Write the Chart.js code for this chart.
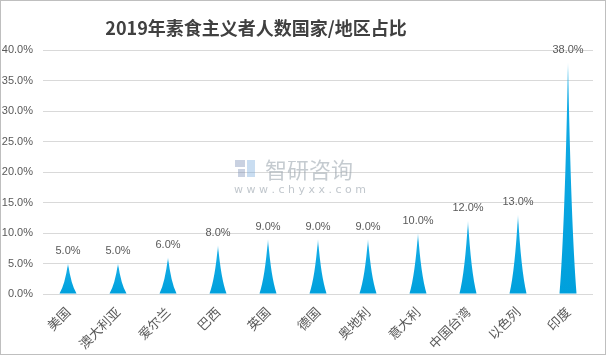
<!DOCTYPE html>
<html><head><meta charset="utf-8">
<script src="https://cdn.jsdelivr.net/npm/chart.js@4/dist/chart.umd.min.js"></script>
<style>html,body{margin:0;padding:0;background:#fff}#wrap{width:606px;height:355px;position:relative}</style>
</head><body><div id="wrap"><canvas id="c" width="606" height="355"></canvas></div>
<script>
const categories = ["美国","澳大利亚","爱尔兰","巴西","英国","德国","奥地利","意大利","中国台湾","以色列","印度"];
const values = [5,5,6,8,9,9,9,10,12,13,38];
const yTicks = [0,5,10,15,20,25,30,35,40];
const titleText = "2019年素食主义者人数国家/地区占比";

const spikePlugin = {
  id:'spikes',
  beforeDraw(chart){
    const ctx = chart.ctx;
    ctx.save();
    ctx.fillStyle='#fff';ctx.fillRect(0,0,chart.width,chart.height);
    ctx.strokeStyle='#bfbfbf';ctx.lineWidth=1;
    ctx.strokeRect(0.5,0.5,chart.width-1,chart.height-1);
    ctx.fillStyle='#404040';
    ctx.font='bold 18px "Noto Sans CJK SC", "Noto Sans", sans-serif';
    ctx.textAlign='center';ctx.textBaseline='middle';
    ctx.fillText(titleText, 256, 28);
    ctx.restore();
  },
  beforeDatasetsDraw(chart){
    const ctx=chart.ctx;
    ctx.save();
    ctx.fillStyle='rgba(150,160,170,0.55)';
    ctx.font='22px "Noto Sans CJK SC", sans-serif';
    ctx.textAlign='left';ctx.textBaseline='middle';
    ctx.fillText('智研咨询',265,170);
    ctx.font='11px "DejaVu Sans", sans-serif';
    ctx.fillStyle='rgba(150,160,170,0.6)';
    const url='w w w . c h y x x . c o m';
    ctx.fillText(url,234,190);
    ctx.fillStyle='rgba(120,140,180,0.4)';
    ctx.fillRect(235,160,10,7);ctx.fillRect(238,169,7,8);
    ctx.fillStyle='rgba(120,170,220,0.4)';
    ctx.fillRect(247,160,8,17);
    ctx.restore();
  },
  afterDatasetsDraw(chart){
    const ctx=chart.ctx;
    const meta=chart.getDatasetMeta(0);
    ctx.save();
    meta.data.forEach((el,i)=>{
      const p=el.getProps(['x','y','base','width'],true);
      const w=p.width, h=p.base-p.y;
      const g=ctx.createLinearGradient(0,p.y,0,p.base);
      g.addColorStop(0,'#9fe0f8');
      g.addColorStop(Math.min(0.15,10/h),'#14ace6');
      g.addColorStop(1,'#00a0dc');
      ctx.fillStyle=g;
      ctx.beginPath();
      ctx.moveTo(p.x-w/2,p.base);
      ctx.quadraticCurveTo(p.x-w*0.18,p.base-h*0.3,p.x,p.y);
      ctx.quadraticCurveTo(p.x+w*0.18,p.base-h*0.3,p.x+w/2,p.base);
      ctx.closePath();
      ctx.fill();
      ctx.fillStyle='#595959';
      ctx.font='11px "Liberation Sans", Arial, sans-serif';
      ctx.textAlign='center';ctx.textBaseline='middle';
      ctx.fillText(values[i].toFixed(1)+'%',p.x,p.y-12.5);
    });
    ctx.restore();
  }
};

new Chart(document.getElementById('c'),{
  type:'bar',
  data:{labels:categories,datasets:[{data:values,backgroundColor:'rgba(0,0,0,0)',borderWidth:0,barPercentage:0.34,categoryPercentage:1}]},
  options:{
    responsive:false,animation:false,
    layout:{padding:{top:50,right:13,bottom:0,left:0}},
    plugins:{legend:{display:false},tooltip:{enabled:false}},
    scales:{
      y:{min:0,max:40,
        afterFit(s){s.width=43;},
        afterBuildTicks(s){s.ticks=yTicks.map(v=>({value:v}));},
        ticks:{callback:v=>v.toFixed(1)+'%',color:'#595959',padding:10,
          font:{size:11,family:'"Liberation Sans", Arial, sans-serif'}},
        grid:{color:'#d9d9d9',drawTicks:false},border:{display:false}},
      x:{afterFit(s){s.height=61;},
        ticks:{minRotation:45,maxRotation:45,color:'#595959',padding:2,
          font:{size:13,family:'"Noto Sans CJK SC", sans-serif'}},
        grid:{display:false},border:{display:false}}
    }
  },
  plugins:[spikePlugin]
});
</script></body></html>
